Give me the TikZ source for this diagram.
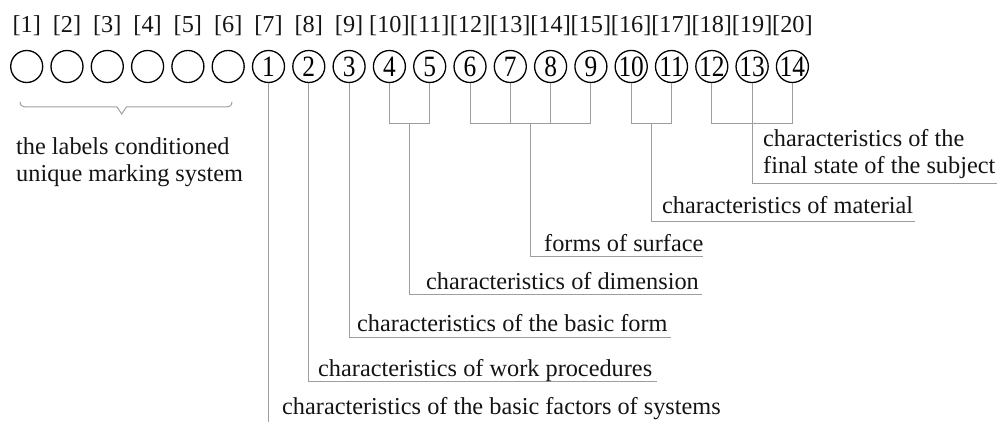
\documentclass[tikz,border=0pt]{standalone}
\usepackage{graphicx}
\usepackage{fontspec}
\setmainfont{Liberation Serif}
\begin{document}
\begin{tikzpicture}[x=1pt,y=-1pt,
  slot/.style={circle,draw=black,line width=1.3pt,minimum size=32pt,inner sep=0pt,
    font=\fontsize{29.5}{29.5}\selectfont},
  idx/.style={anchor=base,inner sep=0pt,font=\fontsize{24.3}{27}\selectfont,text=black!92},
  caption/.style={anchor=base west,inner sep=0pt,font=\fontsize{24.3}{27}\selectfont,text=black!92},
  conn/.style={draw=black!38,line width=1pt}]
\useasboundingbox (0,0) rectangle (999,422);

% position indices and empty slots 1-6
\foreach \i in {1,...,6}{
  \pgfmathsetmacro\cx{26.7+40.3*(\i-1)}
  \node[slot] (c\i) at (\cx,66.5) {};
  \node[idx] (n\i) at (\cx,33) {[\i]};
}
% numbered slots 7-20, digits slightly condensed
\foreach \i in {7,...,20}{
  \pgfmathsetmacro\cx{26.7+40.3*(\i-1)}
  \pgfmathtruncatemacro\k{\i-6}
  \node[slot] (c\i) at (\cx,66.5) {\scalebox{0.86}[1]{\k}};
  \node[idx] (n\i) at (\cx,33) {[\i]};
}

% brace under the unlabelled slots
\draw[conn] (20,102) .. controls (20.5,105.5) and (22,107) .. (25,107)
  -- (117,107) -- (121.7,114) -- (126.4,107) -- (227,107)
  .. controls (230,107) and (231.5,105.5) .. (232,102);
\node[caption] (sys1) at (16,155) {the labels conditioned};
\node[caption] (sys2) at (16,182) {unique marking system};

% junctions and line ends
\coordinate (bot) at (0,423);
\coordinate (j1) at (409.55,123.3);
\coordinate (j2) at (530.45,123.3);
\coordinate (j3) at (651.35,123.3);
\coordinate (j4) at (752.1,123.3);
\coordinate (u2) at (657,381.7);
\coordinate (u3) at (671,337.3);
\coordinate (u4) at (702,294.3);
\coordinate (u5) at (703,256.7);
\coordinate (u6) at (915,221.7);
\coordinate (u7) at (997,183.3);

% single slots
\draw[conn] (c7.south) -- (c7.south |- bot);
\draw[conn] (c8.south) |- (u2);
\draw[conn] (c9.south) |- (u3);
% slots 4-5
\draw[conn] (c10.south) |- (j1) -| (c11.south);
\draw[conn] (j1) |- (u4);
% slots 6-9
\draw[conn] (c12.south) |- (c15.south |- j2) -- (c15.south);
\draw[conn] (c13.south) -- (c13.south |- j2);
\draw[conn] (c14.south) -- (c14.south |- j2);
\draw[conn] (j2) |- (u5);
% slots 10-11
\draw[conn] (c16.south) |- (j3) -| (c17.south);
\draw[conn] (j3) |- (u6);
% slots 12-14
\draw[conn] (c18.south) |- (c20.south |- j4) -- (c20.south);
\draw[conn] (c19.south) |- (u7);

% captions
\node[caption] (t1) at (282,414) {characteristics of the basic factors of systems};
\node[caption] (t2) at (318,376) {characteristics of work procedures};
\node[caption] (t3) at (357,331.7) {characteristics of the basic form};
\node[caption] (t4) at (426,289.3) {characteristics of dimension};
\node[caption] (t5) at (544,252) {forms of surface};
\node[caption] (t6) at (662,214) {characteristics of material};
\node[caption] (t7a) at (763,146.7) {characteristics of the};
\node[caption] (t7b) at (763,173.5) {final state of the subject};
\end{tikzpicture}
\end{document}
